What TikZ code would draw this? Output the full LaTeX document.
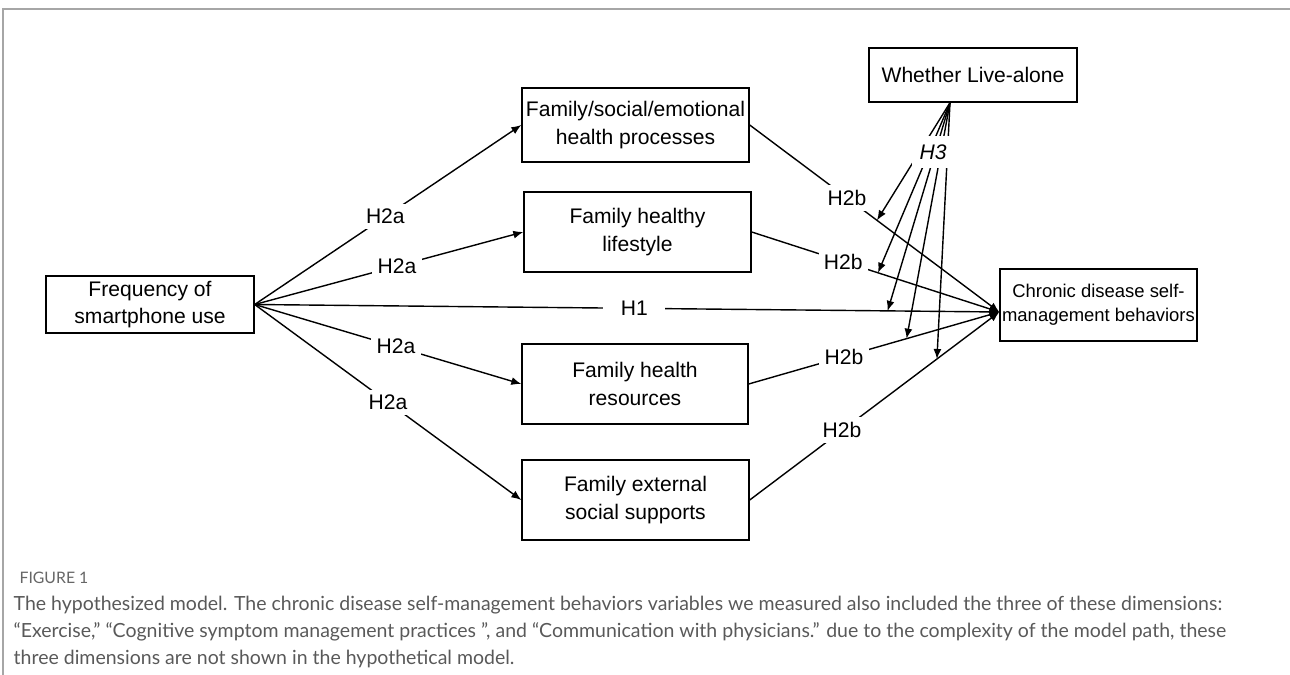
\documentclass[tikz,border=0pt]{standalone}
\usepackage{fontspec}
\setmainfont{Liberation Sans}
\newfontfamily\capfont{Lato}
\usetikzlibrary{arrows.meta}

\begin{document}
\begin{tikzpicture}[x=0.02cm,y=-0.02cm,line width=0.8pt,line cap=round,>={Latex[length=2mm,width=1.6mm]}]
	\tikzstyle{kuang}=[draw,rectangle,align=center,inner sep=0pt,font=\fontsize{12}{15.5}\selectfont];
	\tikzstyle{biao}=[fill=white,inner sep=3pt,font=\fontsize{12}{14}\selectfont];
	\useasboundingbox (0,0) rectangle (1290,675);
	%% frame
	\draw[gray!70,line width=0.6pt,line cap=butt] (3,675) -- (3,9) -- (1290,9);
	%% variables
	\node[kuang,minimum width=4.16cm,minimum height=1.14cm] (freq) at (150,304.5) {Frequency of\\smartphone use};
	\node[kuang,minimum width=4.54cm,minimum height=1.48cm] (fse)  at (635.5,125)  {Family/social/emotional\\health processes};
	\node[kuang,minimum width=4.54cm,minimum height=1.60cm] (fhl)  at (637.5,232)  {Family healthy\\lifestyle};
	\node[kuang,minimum width=4.52cm,minimum height=1.60cm] (fhr)  at (635,384)    {Family health\\resources};
	\node[kuang,minimum width=4.54cm,minimum height=1.60cm] (fes)  at (635.5,500)  {Family external\\social supports};
	\node[kuang,minimum width=3.94cm,minimum height=1.44cm,font=\fontsize{10.5}{13.5}\selectfont] (cd) at (1098.5,305) {Chronic disease self-\\management behaviors};
	\node[kuang,minimum width=4.16cm,minimum height=1.08cm] (wla)  at (973,75)     {Whether Live-alone};
	\coordinate (cdin) at ([yshift=-0.14cm]cd.west);
	\coordinate (wlafoot) at ([xshift=-0.46cm]wla.south);
	%% H2a
	\draw[->] (freq.east) -- node[biao,pos=0.49]{H2a} (fse.west);
	\draw[->] (freq.east) -- node[biao,pos=0.53]{H2a} (fhl.west);
	\draw[->] (freq.east) -- node[biao,pos=0.53]{H2a} (fhr.west);
	\draw[->] (freq.east) -- node[biao,pos=0.50]{H2a} (fes.west);
	%% H1
	\draw[->] (freq.east) -- node[biao,pos=0.51,inner xsep=10pt]{H1} coordinate[pos=0.85] (m3) (cdin);
	%% H2b
	\draw[->] (fse.east) -- node[biao,pos=0.39]{H2b} coordinate[pos=0.51] (m1) (cdin);
	\draw[->] (fhl.east) -- node[biao,pos=0.37]{H2b} coordinate[pos=0.51] (m2) (cdin);
	\draw[->] (fhr.east) -- node[biao,pos=0.38]{H2b} coordinate[pos=0.63] (m4) (cdin);
	\draw[->] (fes.east) -- node[biao,pos=0.37]{H2b} coordinate[pos=0.75] (m5) (cdin);
	%% H3
	\foreach \m in {m1,m2,m3,m4,m5}
		\draw[->] (wlafoot) -- (\m);
	\node[biao,minimum width=0.84cm,minimum height=0.66cm,font=\fontsize{12}{14}\selectfont\itshape] (h3) at (933,152) {H3};
	%% caption
	\node[anchor=west,text=black!60,font=\capfont\fontsize{9}{11}\selectfont] (fig) at (13,578) {FIGURE 1};
	\node[anchor=north west,align=left,inner sep=0pt,text=black!65,font=\capfont\fontsize{11.1}{15.4}\selectfont] (cap) at (13,595)
		{The hypothesized model. The chronic disease self-management behaviors variables we measured also included the three of these dimensions:\\
		 “Exercise,” “Cognitive symptom management practices ”, and “Communication with physicians.” due to the complexity of the model path, these\\
		 three dimensions are not shown in the hypothetical model.};
\end{tikzpicture}
\end{document}
